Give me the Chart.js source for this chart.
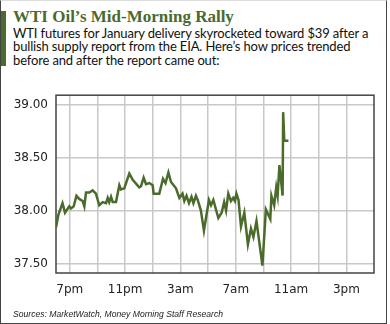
<!DOCTYPE html>
<html>
<head>
<meta charset="utf-8">
<script src="https://cdn.jsdelivr.net/npm/chart.js@4"></script>
<style>
  html, body { margin: 0; padding: 0; background: #fff; }
  #frame {
    position: relative; width: 385px; height: 322px; overflow: hidden;
    border-left: 1px solid #444; border-right: 1px solid #444;
    border-bottom: 1px solid #444; border-top: 1px solid #ddd;
  }
  #bar { position: absolute; left: 0; top: 10px; width: 5px; height: 55px; background: #4a6a2e; }
  #title {
    position: absolute; left: 12px; top: 6px;
    font: bold 17px "Liberation Serif", serif; color: #4a6a2e;
  }
  #sub {
    position: absolute; left: 12px; top: 26px; white-space: nowrap;
    font: 13px Lato, sans-serif; line-height: 13.3px; color: #111;
    letter-spacing: -0.15px;
  }
  #box { position: absolute; left: 0; top: 79px; width: 385px; height: 230px; }
  #src {
    position: absolute; left: 12px; top: 308px; white-space: nowrap;
    font: italic 8.6px "Liberation Sans", sans-serif; color: #222;
  }
</style>
</head>
<body>
<div id="frame">
  <div id="bar"></div>
  <div id="title">WTI Oil’s Mid-Morning Rally</div>
  <div id="sub">WTI futures for January delivery skyrocketed toward $39 after a<br>bullish supply report from the EIA. Here’s how prices trended<br>before and after the report came out:</div>
  <div id="box"><canvas id="oilChart"></canvas></div>
  <div id="src">Sources: MarketWatch, Money Morning Staff Research</div>
</div>
<script>
// hora (18 = 6pm, 24 = medianoche, 34.5 = 10:30am)
var hours = [
  18.00, 18.17, 18.47, 18.65, 18.96, 19.08, 19.28, 19.48, 19.68, 19.93,
  20.05, 20.17, 20.41, 20.65, 20.89, 21.13, 21.38, 21.62, 21.74, 21.85,
  21.98, 22.10, 22.34, 22.58, 22.70, 22.94, 23.30, 23.55, 24.02, 24.15,
  24.34, 24.51, 24.75, 24.99, 25.06, 25.47, 25.74, 25.92, 26.13, 26.32,
  26.68, 26.92, 27.15, 27.28, 27.44, 27.62, 27.80, 27.94, 28.12, 28.25,
  28.48, 28.70, 29.06, 29.21, 29.38, 29.74, 29.98, 30.16, 30.30, 30.46,
  30.65, 30.82, 30.94, 31.05, 31.20, 31.38, 31.62, 31.88, 32.10, 32.28,
  32.50, 32.93, 33.18, 33.50, 33.58, 33.78, 33.93, 34.03, 34.16, 34.39,
  34.43, 34.51, 34.81
];
var prices = [
  37.84, 37.96, 38.07, 37.98, 38.04, 38.02, 38.04, 38.14, 38.11, 38.09,
  38.04, 38.17, 38.17, 38.19, 38.16, 38.05, 38.08, 38.07, 38.12, 38.08,
  38.13, 38.08, 38.08, 38.24, 38.20, 38.21, 38.35, 38.29, 38.22, 38.23,
  38.31, 38.25, 38.26, 38.24, 38.16, 38.16, 38.30, 38.26, 38.36, 38.27,
  38.21, 38.12, 38.16, 38.09, 38.14, 38.07, 38.13, 38.07, 38.14, 38.10,
  38.00, 37.81, 38.10, 38.05, 38.10, 37.93, 37.98, 38.08, 38.00, 38.16,
  38.09, 38.12, 38.09, 38.16, 38.10, 37.85, 37.98, 37.68, 37.83, 37.75,
  37.90, 37.48, 38.01, 37.92, 38.14, 38.05, 38.22, 38.14, 38.43, 38.14,
  38.93, 38.66, 38.66
];

var gridHours = [19, 21, 23, 25, 27, 29, 31, 33, 35, 37, 39];
var labelHours = [19, 23, 27, 31, 35, 39];
var labelText = ['7pm', '11pm', '3am', '7am', '11am', '3pm'];
var priceTicks = [37.5, 38.0, 38.5, 39.0];

var green = '#4a6b2b';

// Marco del area del grafico
var plotBorder = {
    id: 'plotBorder',
    beforeDatasetsDraw: function (chart) {
        var a = chart.chartArea, ctx = chart.ctx;
        ctx.save();
        ctx.strokeStyle = '#444';
        ctx.lineWidth = 1.5;
        ctx.strokeRect(a.left, a.top, a.right - a.left, a.bottom - a.top);
        ctx.restore();
    }
};

var puntos = hours.map(function (h, i) {
    return { x: h, y: prices[i] };
});

new Chart(document.getElementById('oilChart'), {
    type: 'line',
    data: {
        datasets: [{
            data: puntos,
            borderColor: green,
            borderWidth: 2.5,
            pointRadius: 0,
            tension: 0,
            fill: false
        }]
    },
    options: {
        responsive: true,
        maintainAspectRatio: false,
        animation: false,
        layout: { padding: { top: 6, right: 12, left: 0, bottom: 0 } },
        plugins: { legend: { display: false }, tooltip: { enabled: false } },
        scales: {
            x: {
                type: 'linear',
                min: 18,
                max: 41,
                afterBuildTicks: function (scale) {
                    scale.ticks = gridHours.map(function (v) { return { value: v }; });
                },
                afterFit: function (scale) { scale.height = 37; },
                grid: { color: '#c8c8c8', lineWidth: 1.5, drawTicks: false },
                border: { display: false },
                ticks: {
                    autoSkip: false,
                    maxRotation: 0,
                    padding: 10,
                    color: '#222',
                    font: { family: 'DejaVu Sans', size: 12 },
                    callback: function (v) {
                        var i = labelHours.indexOf(v);
                        return i >= 0 ? labelText[i] : '';
                    }
                }
            },
            y: {
                min: 37.41,
                max: 39.09,
                afterBuildTicks: function (scale) {
                    scale.ticks = priceTicks.map(function (v) { return { value: v }; });
                },
                afterFit: function (scale) { scale.width = 55; },
                grid: { color: '#c8c8c8', lineWidth: 1.5, drawTicks: false },
                border: { display: false },
                ticks: {
                    padding: 8,
                    color: '#222',
                    font: { family: 'DejaVu Sans', size: 12 },
                    callback: function (v) { return v.toFixed(2); }
                }
            }
        }
    },
    plugins: [plotBorder]
});
</script>
</body>
</html>
